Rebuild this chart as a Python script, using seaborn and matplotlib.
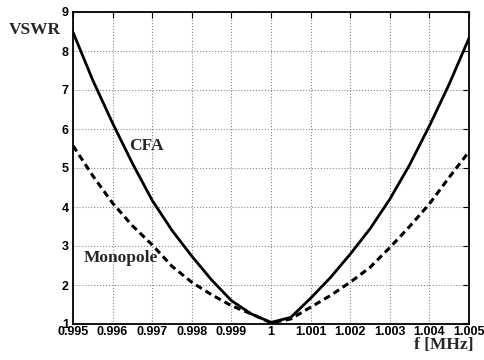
import matplotlib
matplotlib.use("Agg")
import matplotlib.pyplot as plt
import seaborn as sns
import pandas as pd

# Frequency sweep (MHz) and measured VSWR of both antennas
freq = [0.995, 0.9955, 0.996, 0.9965, 0.997, 0.9975, 0.998, 0.9985, 0.999, 0.9995,
        1.0, 1.0005, 1.001, 1.0015, 1.002, 1.0025, 1.003, 1.0035, 1.004, 1.0045, 1.005]
vswr_cfa = [8.48, 7.25, 6.15, 5.12, 4.17, 3.40, 2.74, 2.13, 1.60, 1.26,
            1.04, 1.17, 1.66, 2.19, 2.79, 3.44, 4.20, 5.08, 6.08, 7.15, 8.33]
vswr_monopole = [5.57, 4.80, 4.10, 3.52, 3.03, 2.48, 2.07, 1.75, 1.47, 1.26,
                 1.03, 1.13, 1.43, 1.73, 2.07, 2.45, 2.96, 3.50, 4.08, 4.76, 5.42]

x_ticks = [0.995, 0.996, 0.997, 0.998, 0.999, 1.0, 1.001, 1.002, 1.003, 1.004, 1.005]
x_tick_labels = ["0.995", "0.996", "0.997", "0.998", "0.999", "1",
                 "1.001", "1.002", "1.003", "1.004", "1.005"]
y_ticks = [1, 2, 3, 4, 5, 6, 7, 8, 9]
y_tick_labels = ["1", "2", "3", "4", "5", "6", "7", "8", "9"]

df = pd.DataFrame({"f": freq, "CFA": vswr_cfa, "Monopole": vswr_monopole})

sns.set_style("white")
plt.rcParams["font.family"] = ["Liberation Sans", "DejaVu Sans"]

W, H = 484, 360
fig = plt.figure(figsize=(W / 100, H / 100), dpi=100)
ax = fig.add_axes([73 / W, 36 / H, 396 / W, 312 / H])

sns.lineplot(data=df, x="f", y="CFA", ax=ax, color="black", lw=2.0)
sns.lineplot(data=df, x="f", y="Monopole", ax=ax, color="black", lw=2.2,
             linestyle=(0, (2.2, 1.4)))

ax.set_xlim(0.995, 1.005)
ax.set_ylim(1, 9)
ax.set_xticks(x_ticks)
ax.set_xticklabels(x_tick_labels)
ax.set_yticks(y_ticks)
ax.set_yticklabels(y_tick_labels)
ax.set_xlabel("")
ax.set_ylabel("")

ax.grid(True, linestyle=":", linewidth=0.8, color="#8a8a8a")
for s in ax.spines.values():
    s.set_visible(True)
    s.set_color("black")
    s.set_linewidth(1.3)

ax.tick_params(direction="in", length=4, width=0.8, top=True, right=True,
               labelsize=9, colors="black")
ax.tick_params(axis="x", pad=1.5)
ax.tick_params(axis="y", pad=3)
for lab in ax.get_xticklabels() + ax.get_yticklabels():
    lab.set_fontweight("bold")

serif = ["Liberation Serif", "DejaVu Serif"]
fig.text(34.5 / W, 1 - 30 / H, "VSWR", family=serif, fontweight="bold",
         fontsize=12.5, ha="center", va="center")
fig.text(146 / W, 1 - 146 / H, "CFA", family=serif, fontweight="bold",
         fontsize=12.5, ha="center", va="center")
fig.text(120.5 / W, 1 - 258 / H, "Monopole", family=serif, fontweight="bold",
         fontsize=12.5, ha="center", va="center")
fig.text(443.5 / W, 1 - 345 / H, "f [MHz]", family=serif, fontweight="bold",
         fontsize=12.5, ha="center", va="center")

fig.savefig("out.png", dpi=100, facecolor="white")
